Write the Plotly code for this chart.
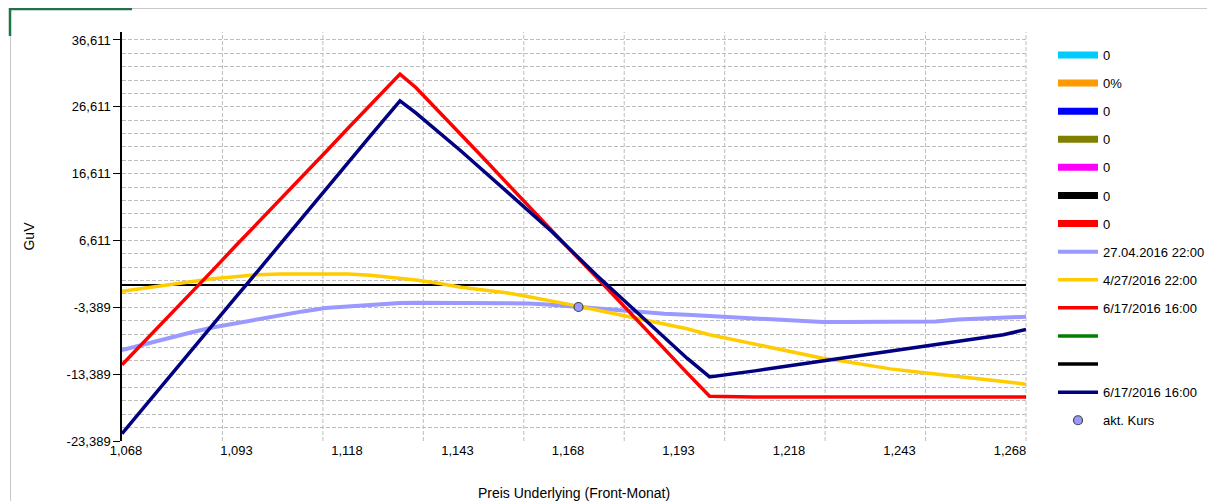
import plotly.graph_objects as go

# ---------------- data ----------------
x_price = [1.068, 1.073, 1.078, 1.083, 1.088, 1.093, 1.098, 1.103, 1.108, 1.113,
           1.118, 1.123, 1.128, 1.1295, 1.133, 1.138, 1.143, 1.148, 1.153, 1.158,
           1.163, 1.168, 1.173, 1.178, 1.183, 1.188, 1.193, 1.198, 1.203, 1.208,
           1.213, 1.218, 1.223, 1.228, 1.233, 1.238, 1.243, 1.248, 1.253, 1.258,
           1.263, 1.268]

guv_27_04_de = [-9.8, -8.9, -8.0, -7.2, -6.4, -5.8, -5.1, -4.5, -4.0, -3.5,
                -3.25, -3.0, -2.8, -2.75, -2.7, -2.7, -2.7, -2.7, -2.7, -2.8,
                -3.0, -3.3, -3.6, -3.9, -4.1, -4.35, -4.5, -4.7, -4.9, -5.1,
                -5.3, -5.5, -5.6, -5.6, -5.6, -5.6, -5.6, -5.5, -5.2, -5.1,
                -5.0, -4.8]

guv_4_27_us = [-1.0, -0.5, 0.0, 0.5, 0.9, 1.2, 1.5, 1.6, 1.6, 1.6,
               1.6, 1.4, 1.1, 1.0, 0.7, 0.2, -0.4, -0.8, -1.2, -1.8,
               -2.4, -3.1, -3.8, -4.5, -5.1, -5.8, -6.6, -7.5, -8.2, -8.9,
               -9.6, -10.3, -11.0, -11.5, -12.1, -12.6, -13.0, -13.35, -13.7, -14.1,
               -14.5, -14.9]

guv_6_17_red = [-12.0, -8.5, -5.0, -1.4, 2.1, 5.7, 9.2, 12.8, 16.3, 19.8,
                23.4, 26.9, 30.4, 31.5, 29.5, 26.0, 22.4, 18.9, 15.3, 11.7,
                8.2, 4.6, 1.1, -2.5, -6.1, -9.6, -13.2, -16.7, -16.8, -16.8,
                -16.8, -16.8, -16.8, -16.8, -16.8, -16.8, -16.8, -16.8, -16.8, -16.8,
                -16.8, -16.8]

guv_6_17_navy = [-22.3, -18.2, -14.2, -10.1, -6.1, -2.0, 2.0, 6.1, 10.1, 14.2,
                 18.2, 22.3, 26.3, 27.5, 25.7, 22.9, 20.0, 17.0, 14.0, 11.0,
                 8.0, 4.7, 1.4, -1.7, -4.8, -7.9, -11.0, -13.8, -13.4, -12.9,
                 -12.4, -11.9, -11.4, -10.9, -10.4, -9.9, -9.4, -8.9, -8.4, -7.9,
                 -7.5, -6.7]

akt_kurs_x = [1.169]
akt_kurs_y = [-3.34]

empty_names = ["0", "0%", "0", "0", "0", "0", "0"]
empty_colors = ["#00CCFF", "#FF9900", "#0000FF", "#808000", "#FF00FF", "#000000", "#FF0000"]

y_tick_vals = [-23.389, -13.389, -3.389, 6.611, 16.611, 26.611, 36.611]
y_tick_text = ["-23,389", "-13,389", "-3,389", "6,611", "16,611", "26,611", "36,611"]
x_tick_text = ["1,068", "1,093", "1,118", "1,143", "1,168", "1,193", "1,218", "1,243", "1,268"]

# ---------------- layout helpers ----------------
OFF = 8                      # page body margin of the html page
PAGE_W, PAGE_H = 1215, 501
W, H = PAGE_W - OFF, PAGE_H - OFF
# plot-area edges in page pixels
PL, PR, PT, PB = 122, 1026, 32, 441
L, R, T, B = PL - OFF, PR - OFF, PT - OFF, PB - OFF
X_MIN, X_MAX = 1.068, 1.268
Y_MIN, Y_MAX = -23.389, 37.8
FONT = "Arial, 'Liberation Sans', sans-serif"


def px_to_paper_x(px):
    return (px - PL) / (PR - PL)


def px_to_paper_y(py):
    return (PB - py) / (PB - PT)


# label positions spread evenly across the axis (as in the source chart)
x_tick_pos = [X_MIN + (X_MAX - X_MIN) * (4 + 110.5 * i) / (PR - PL) for i in range(len(x_tick_text))]

fig = go.Figure()

for i, (nm, col) in enumerate(zip(empty_names, empty_colors)):
    fig.add_trace(go.Scatter(x=[None], y=[None], mode="lines", name=nm,
                             line=dict(color=col, width=7), legendgroup=f"g{i}"))

fig.add_trace(go.Scatter(x=x_price, y=guv_27_04_de, mode="lines", name="27.04.2016 22:00",
                         line=dict(color="#9999FF", width=4), legendgroup="g7"))
fig.add_trace(go.Scatter(x=x_price, y=guv_4_27_us, mode="lines", name="4/27/2016 22:00",
                         line=dict(color="#FFCC00", width=3.5), legendgroup="g8"))
fig.add_trace(go.Scatter(x=x_price, y=guv_6_17_red, mode="lines", name="6/17/2016 16:00",
                         line=dict(color="#FF0000", width=3.5), legendgroup="g9"))
fig.add_trace(go.Scatter(x=[None], y=[None], mode="lines", name="",
                         line=dict(color="#008000", width=3.5), legendgroup="g10"))
fig.add_trace(go.Scatter(x=[None], y=[None], mode="lines", name="",
                         line=dict(color="#000000", width=3.5), legendgroup="g11"))
fig.add_trace(go.Scatter(x=x_price, y=guv_6_17_navy, mode="lines", name="6/17/2016 16:00",
                         line=dict(color="#000080", width=3.5), legendgroup="g12"))
fig.add_trace(go.Scatter(x=akt_kurs_x, y=akt_kurs_y, mode="markers", name="akt. Kurs",
                         marker=dict(color="#9999FF", size=9, line=dict(color="#444444", width=1.2)),
                         legendgroup="g13"))

shapes = []
# vertical dashed grid lines
for k in range(1, 10):
    shapes.append(dict(type="line", xref="x domain", yref="y domain", x0=k / 9, x1=k / 9, y0=0, y1=1,
                       line=dict(color="#BDBDBD", width=1, dash="4px,2px"), layer="below"))
# outer frame decoration
shapes.append(dict(type="line", xref="paper", yref="paper",
                   x0=px_to_paper_x(10), x1=px_to_paper_x(1215), y0=px_to_paper_y(8.5), y1=px_to_paper_y(8.5),
                   line=dict(color="#C8C8C8", width=1)))
shapes.append(dict(type="line", xref="paper", yref="paper",
                   x0=px_to_paper_x(10.5), x1=px_to_paper_x(10.5), y0=px_to_paper_y(8), y1=px_to_paper_y(501),
                   line=dict(color="#C8C8C8", width=1)))
shapes.append(dict(type="path", xref="paper", yref="paper",
                   path=f"M{px_to_paper_x(10)},{px_to_paper_y(36)} L{px_to_paper_x(10)},{px_to_paper_y(9)} "
                        f"L{px_to_paper_x(132)},{px_to_paper_y(9)}",
                   line=dict(color="#217346", width=2.5)))

fig.update_layout(
    width=W, height=H,
    margin=dict(l=L, r=W - R, t=T, b=H - B, autoexpand=False),
    paper_bgcolor="white", plot_bgcolor="white",
    font=dict(family=FONT, size=13, color="#000000"),
    showlegend=True,
    legend=dict(x=px_to_paper_x(1053), y=px_to_paper_y(40), xanchor="left", yanchor="top",
                font=dict(family=FONT, size=13, color="#000000"),
                tracegroupgap=8.2, itemwidth=40, bgcolor="rgba(0,0,0,0)"),
    shapes=shapes,
    xaxis=dict(range=[X_MIN, X_MAX], tickmode="array", tickvals=x_tick_pos, ticktext=x_tick_text,
               showgrid=False, zeroline=False, showline=False, ticks="",
               tickfont=dict(size=13, color="#000000"),
               title=dict(text="Preis Underlying (Front-Monat)", font=dict(size=14, color="#000000"), standoff=31)),
    yaxis=dict(range=[Y_MIN, Y_MAX], tickmode="array", tickvals=y_tick_vals, ticktext=y_tick_text,
               showgrid=True, gridcolor="#BDBDBD", griddash="4px,2px", gridwidth=1,
               zeroline=True, zerolinecolor="#000000", zerolinewidth=1.5,
               showline=True, linecolor="#000000", linewidth=1.5,
               ticks="outside", ticklen=7, tickcolor="#000000", tickwidth=1,
               tickfont=dict(size=13, color="#000000"),
               minor=dict(tick0=-23.389, dtick=2, showgrid=True, gridcolor="#BDBDBD",
                          griddash="4px,2px", gridwidth=1, ticks=""),
               title=dict(text="GuV", font=dict(size=14, color="#000000"), standoff=29)),
)

fig.write_html("out.html")
